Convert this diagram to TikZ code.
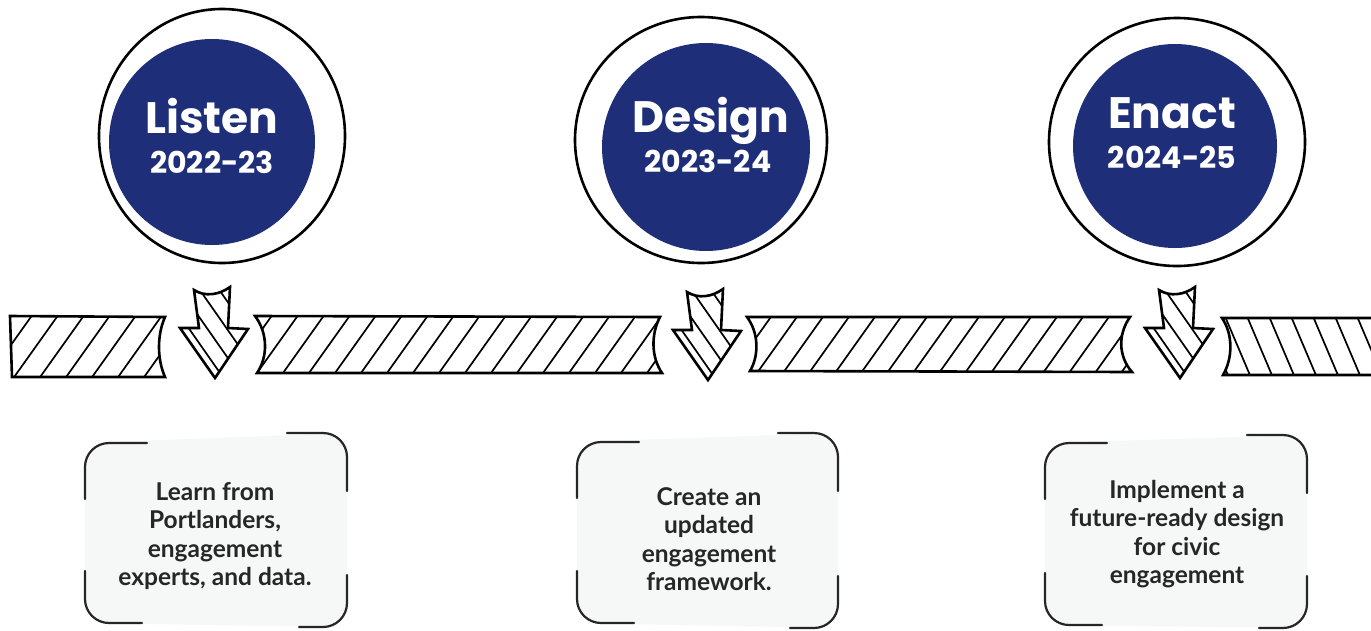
\documentclass[tikz,border=0pt]{standalone}
\usepackage{fontspec}
\setmainfont{Lato}
\newfontfamily\titlefont{Poppins}
\usetikzlibrary{shapes.geometric,calc}
\definecolor{marine}{HTML}{1F2E78}
\definecolor{papier}{HTML}{F6F7F7}
\definecolor{encre}{HTML}{262626}

\tikzset{
  anneau/.style={ellipse, draw=black, line width=2.6pt, inner sep=0pt},
  disque/.style={circle, fill=marine, inner sep=0pt},
  titre/.style={text=white, font=\titlefont\bfseries\fontsize{44}{44}\selectfont, inner sep=0pt, anchor=base},
  annee/.style={text=white, font=\titlefont\bfseries\fontsize{30}{30}\selectfont, inner sep=0pt, anchor=base},
  barre/.style={draw=black, fill=white, line width=2.6pt, line join=miter},
  hachure/.style={line width=1.7pt},
  coin/.style={draw=encre, line width=2.2pt, line cap=round},
  texte/.style={text=encre, font=\bfseries\fontsize{24.5}{28.5}\selectfont, align=center, inner sep=0pt},
}

% Fleche vers le bas, pointe en (#1,#2).
\newcommand{\flechebas}[2]{%
  \begin{scope}[shift={(#1,#2)}]
    \draw[barre, path picture={
        \foreach \d in {7,22,38,54}
          \draw[hachure] ({\d*0.819-86},{-\d*0.573-123}) -- ++(172,246);
      }]
      (-21,-88) .. controls (-10,-81) and (4,-83) .. (15,-91)
      -- (13,-50) -- (33,-49) -- (0,0) -- (-35,-50) -- (-16,-50) -- cycle;
  \end{scope}
}

% Cadre a coins : xg, xd, y haut g, y haut d, y bas g, y bas d.
\newcommand{\crochets}[6]{%
  \fill[papier, rounded corners=24] (#1,#3) -- (#2,#4) -- (#2,#6) -- (#1,#5) -- cycle;
  \draw[coin, rounded corners=24] ({#1+62},#3) -- (#1,#3) -- (#1,{#3+56});
  \draw[coin, rounded corners=24] ({#2-60},#4) -- (#2,#4) -- (#2,{#4+58});
  \draw[coin, rounded corners=24] (#1,{#5-52}) -- (#1,#5) -- ({#1+57},#5);
  \draw[coin, rounded corners=24] (#2,{#6-52}) -- (#2,#6) -- ({#2-48},#6);
}

\begin{document}
\begin{tikzpicture}[x=1pt, y=-1pt]
  \useasboundingbox[fill=white] (0,0) rectangle (1371,630);

  % Cercles.
  \node[anneau, minimum width=246, minimum height=254] (cercle1) at (222,136) {};
  \node[disque, minimum size=206] (disque1) at (212,142) {};
  \node[titre] (titre1) at (212,133) {Listen};
  \node[annee] (annee1) at (212,173) {2022-23};

  \node[anneau, minimum width=252, minimum height=246] (cercle2) at (701,140) {};
  \node[disque, minimum size=208] (disque2) at (706,147) {};
  \node[titre] (titre2) at (711,132) {Design};
  \node[annee] (annee2) at (708,172) {2023-24};

  \node[anneau, minimum width=256, minimum height=248] (cercle3) at (1177,142) {};
  \node[disque, minimum size=204] (disque3) at (1175,146) {};
  \node[titre] (titre3) at (1172,128) {Enact};
  \node[annee] (annee3) at (1172,168) {2024-25};

  % Barre.
  \draw[barre, path picture={
      \foreach \x in {-40,-14,...,180} \draw[hachure] (\x,380) -- ++(47,-66);
    }]
    (10,316) -- (165,317) .. controls (157,335) and (157,359) .. (165,377)
    -- (12,377) -- cycle;
  \draw[barre, path picture={
      \foreach \x in {200,226,...,680} \draw[hachure] (\x,380) -- ++(47,-66);
    }]
    (255,316) -- (660,317) .. controls (651,334) and (651,357) .. (662,373)
    -- (257,373) .. controls (268,357) and (268,333) .. (255,316) -- cycle;
  \draw[barre, path picture={
      \foreach \x in {700,726,...,1150} \draw[hachure] (\x,380) -- ++(47,-66);
    }]
    (747,317) -- (1130,317) .. controls (1118,334) and (1118,356) .. (1132,372)
    -- (750,371) .. controls (759,356) and (759,333) .. (747,317) -- cycle;
  \draw[barre, path picture={
      \foreach \x in {1180,1202,...,1400} \draw[hachure] (\x,314) -- ++(28,66);
    }]
    (1222,318) -- (1380,318) -- (1380,375) -- (1223,375)
    .. controls (1233,358) and (1233,334) .. (1222,318) -- cycle;

  % Fleches.
  \flechebas{215}{378}
  \flechebas{708}{380}
  \flechebas{1180}{378}

  % Cadres.
  \crochets{85}{347}{443}{433}{623}{627}
  \node[texte] (texte1) at (215,536) {Learn from\\Portlanders,\\engagement\\experts, and data.};

  \crochets{577}{838}{442}{433}{623}{628}
  \node[texte] (texte2) at (709,539) {Create an\\updated\\engagement\\framework.};

  \crochets{1045}{1307}{443}{435}{625}{628}
  \node[texte] (texte3) at (1177,534) {Implement a\\future-ready design\\for civic\\engagement};
\end{tikzpicture}
\end{document}
